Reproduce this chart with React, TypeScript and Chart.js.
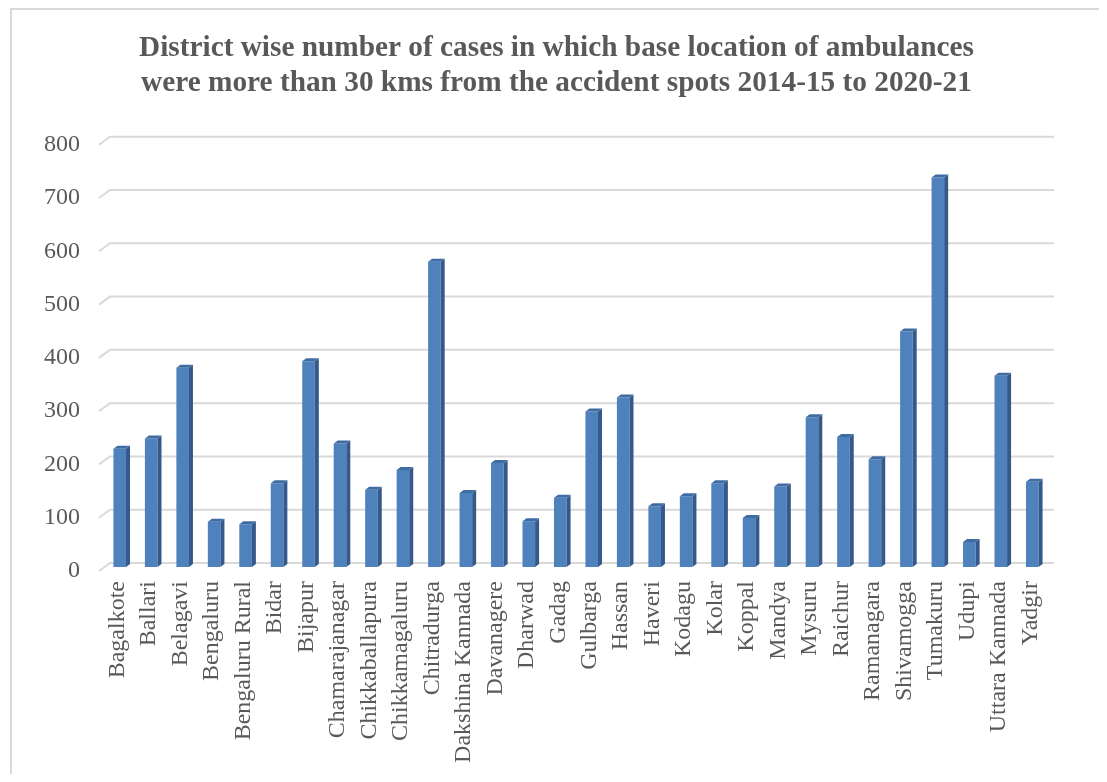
import React, { useEffect, useRef } from "react";
import { Chart, registerables } from "chart.js";

Chart.register(...registerables);

const districts: string[] = [
  "Bagalkote", "Ballari", "Belagavi", "Bengaluru", "Bengaluru Rural", "Bidar", "Bijapur",
  "Chamarajanagar", "Chikkaballapura", "Chikkamagaluru", "Chitradurga", "Dakshina Kannada",
  "Davanagere", "Dharwad", "Gadag", "Gulbarga", "Hassan", "Haveri", "Kodagu", "Kolar",
  "Koppal", "Mandya", "Mysuru", "Raichur", "Ramanagara", "Shivamogga", "Tumakuru", "Udupi",
  "Uttara Kannada", "Yadgir",
];

const cases: number[] = [
  222, 241, 374, 85, 80, 157, 386, 232, 145, 182, 573, 139, 195, 86, 130, 292, 318, 114, 133,
  157, 92, 151, 281, 244, 202, 442, 731, 47, 359, 160,
];

const yTicks: number[] = [0, 100, 200, 300, 400, 500, 600, 700, 800];

const titleLines: string[] = [
  "District wise number of cases in which base location of ambulances",
  "were more than 30 kms from the accident spots 2014-15 to 2020-21",
];

const FONT = '"Liberation Serif", "Times New Roman", serif';
const DX = 4;
const DY = 3;

const threeD = {
  id: "threeD",
  beforeDatasetsDraw(chart: any) {
    const { ctx, chartArea, scales } = chart;
    const ys = scales.y;
    ctx.save();
    ctx.strokeStyle = "#d9d9d9";
    ctx.lineWidth = 2;
    for (const v of yTicks) {
      const y = ys.getPixelForValue(v);
      ctx.beginPath();
      ctx.moveTo(chartArea.left - 5, y + 4);
      ctx.lineTo(chartArea.left + 6, y - 4);
      ctx.lineTo(chartArea.right + 6, y - 4);
      ctx.stroke();
    }
    ctx.restore();
  },
  afterDatasetsDraw(chart: any) {
    const { ctx } = chart;
    const meta = chart.getDatasetMeta(0);
    ctx.save();
    meta.data.forEach((el: any) => {
      const p = el.getProps(["x", "y", "base", "width"], true);
      const l = p.x - p.width / 2;
      const r = p.x + p.width / 2;
      ctx.fillStyle = "#34598a";
      ctx.beginPath();
      ctx.moveTo(r, p.y);
      ctx.lineTo(r + DX, p.y - DY);
      ctx.lineTo(r + DX, p.base - DY);
      ctx.lineTo(r, p.base);
      ctx.closePath();
      ctx.fill();
      ctx.fillStyle = "#3f6ca3";
      ctx.beginPath();
      ctx.moveTo(l, p.y);
      ctx.lineTo(l + DX, p.y - DY);
      ctx.lineTo(r + DX, p.y - DY);
      ctx.lineTo(r, p.y);
      ctx.closePath();
      ctx.fill();
    });
    ctx.restore();
  },
};

export default function App() {
  const ref = useRef<HTMLCanvasElement | null>(null);

  useEffect(() => {
    if (!ref.current) return;
    const chart = new Chart(ref.current, {
      type: "bar",
      data: {
        labels: districts,
        datasets: [
          {
            data: cases,
            backgroundColor: "#4f81bd",
            borderWidth: 0,
            barPercentage: 0.4,
            categoryPercentage: 1,
            yAxisID: "y",
          },
        ],
      },
      options: {
        animation: false,
        responsive: false,
        maintainAspectRatio: false,
        layout: { padding: { left: 0, right: 0, top: 0, bottom: 0 } },
        plugins: {
          legend: { display: false },
          tooltip: { enabled: false },
          title: {
            display: true,
            text: titleLines,
            color: "#595959",
            font: { family: FONT, size: 29.3, weight: "bold", lineHeight: 1.19 },
            padding: { top: 21, bottom: 40 },
          },
        },
        scales: {
          x: {
            grid: { display: false, drawTicks: false },
            border: { display: false },
            ticks: {
              autoSkip: false,
              minRotation: 90,
              maxRotation: 90,
              padding: 14,
              labelOffset: -2,
              color: "#595959",
              font: { family: FONT, size: 24 },
            },
            afterFit: (s: any) => {
              s.height = 207;
            },
          },
          y: {
            position: "left",
            min: 0,
            max: 800,
            grid: { display: false, drawTicks: false },
            border: { display: false },
            ticks: {
              stepSize: 100,
              padding: 24,
              labelOffset: 4,
              color: "#595959",
              font: { family: FONT, size: 24 },
            },
            afterFit: (s: any) => {
              s.width = 92;
            },
          },
          yRight: {
            position: "right",
            display: true,
            min: 0,
            max: 800,
            grid: { display: false, drawTicks: false },
            border: { display: false },
            ticks: { display: false },
            afterFit: (s: any) => {
              s.width = 53;
            },
          },
        },
      },
      plugins: [threeD],
    });
    return () => chart.destroy();
  }, []);

  return (
    <div
      style={{
        marginLeft: 2,
        width: 1093,
        height: 766,
        borderTop: "2px solid #d9d9d9",
        borderLeft: "2px solid #d9d9d9",
        borderRight: "2px solid #d9d9d9",
        boxSizing: "border-box",
        overflow: "hidden",
        background: "#fff",
      }}
    >
      <canvas ref={ref} width={1089} height={764} style={{ display: "block" }} />
    </div>
  );
}
